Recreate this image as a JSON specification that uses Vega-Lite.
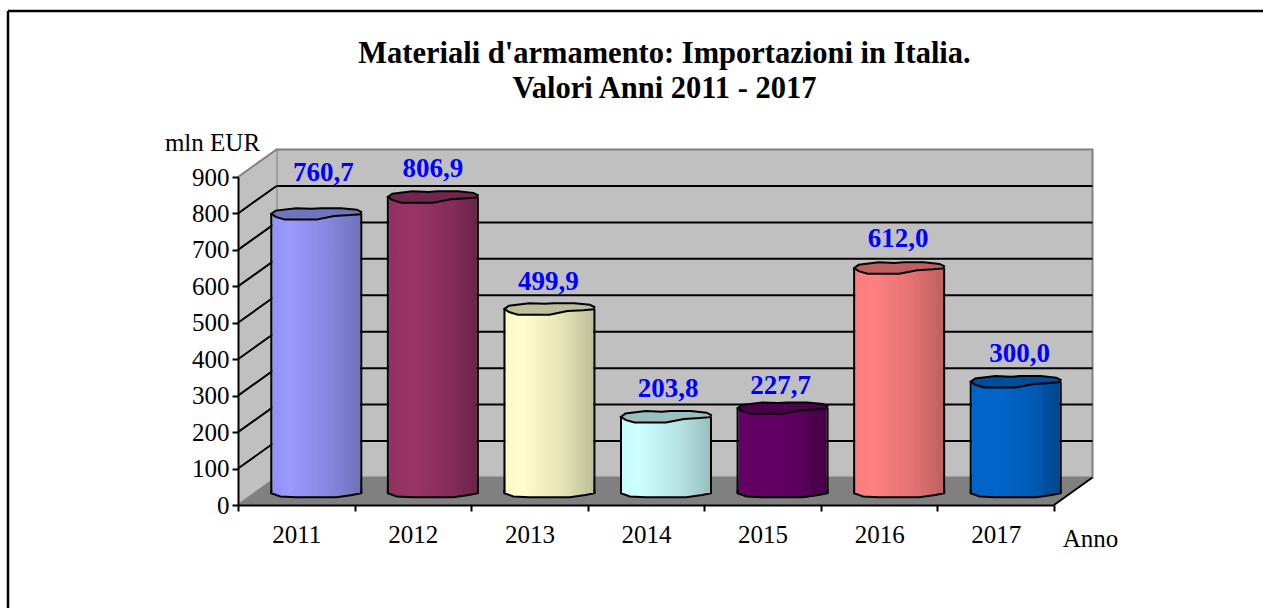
{
"$schema":"https://vega.github.io/schema/vega-lite/v6.json",
"autosize":{"type":"none"},
"padding":{"left":8,"top":11,"right":0,"bottom":0},
"width":1255,"height":597,
"background":"#ffffff",
"config":{"view":{"stroke":null},"font":"Liberation Serif"},
"title":{"text":["Materiali d'armamento: Importazioni in Italia.","Valori Anni 2011 - 2017"],"font":"Liberation Serif","fontSize":30.5,"fontWeight":"bold","color":"#000000","anchor":"middle","frame":"group","dx":29,"offset":-119,"lineHeight":35,"baseline":"alphabetic"},
"datasets":{
"rows":[
{"year":"2011","value":760.7,"label":"760,7"},
{"year":"2012","value":806.9,"label":"806,9"},
{"year":"2013","value":499.9,"label":"499,9"},
{"year":"2014","value":203.8,"label":"203,8"},
{"year":"2015","value":227.7,"label":"227,7"},
{"year":"2016","value":612.0,"label":"612,0"},
{"year":"2017","value":300.0,"label":"300,0"}],
"grid":[{"v":100},{"v":200},{"v":300},{"v":400},{"v":500},{"v":600},{"v":700},{"v":800}],
"edges":[{"v":0},{"v":900}]
},
"data":{"name":"rows"},
"resolve":{"scale":{"x":"independent"}},
"layer":[
{
"layer":[
{"data":{"values":[{"k":1}]},"mark":{"type":"rule","stroke":"#000000","strokeWidth":2.5},"encoding":{"x":{"value":0},"x2":{"value":1255},"y":{"value":0}}},
{"data":{"values":[{"k":1}]},"mark":{"type":"rule","stroke":"#000000","strokeWidth":2.5},"encoding":{"x":{"value":0},"y":{"value":0},"y2":{"value":597}}},
{"data":{"values":[{"k":1}]},"mark":{"type":"rect","fill":"#c0c0c0","stroke":"#808080","strokeWidth":2,"xOffset":38.5,"x2Offset":38.5,"yOffset":-27.5,"y2Offset":-27.5},
 "encoding":{"x":{"datum":0,"type":"quantitative","scale":{"domain":[0,7],"range":[230,1046],"nice":false,"zero":false},"axis":null},"x2":{"datum":7},
  "y":{"datum":0,"type":"quantitative","scale":{"domain":[0,900],"range":[494,166],"nice":false,"zero":false},"axis":{"values":[0,100,200,300,400,500,600,700,800,900],"orient":"left","offset":-230,"zindex":2,"grid":false,"domainColor":"#000000","domainWidth":2,"tickColor":"#000000","tickWidth":2,"tickSize":6,"labelFont":"Liberation Serif","labelFontSize":25,"labelColor":"#000000","labelPadding":3,"title":"mln EUR","titleFont":"Liberation Serif","titleFontSize":25,"titleFontWeight":"normal","titleColor":"#000000","titleAngle":0,"titleX":-26,"titleY":139,"titleAlign":"center","titleBaseline":"alphabetic"}},
  "y2":{"datum":900}}},
{"data":{"values":[{"p":0,"lo":0,"hi":900},{"p":0.33,"lo":75.5,"hi":975.5}]},"mark":{"type":"area","fill":"#c0c0c0","stroke":null},
 "encoding":{"x":{"field":"p","type":"quantitative","axis":null},"y":{"field":"lo","type":"quantitative"},"y2":{"field":"hi"}}},
{"data":{"values":[{"p":0,"lo":0,"hi":0},{"p":0.33,"lo":0,"hi":75.5},{"p":7,"lo":0,"hi":75.5},{"p":7.33,"lo":75.5,"hi":75.5}]},"mark":{"type":"area","fill":"#808080","stroke":null},
 "encoding":{"x":{"field":"p","type":"quantitative","axis":null},"y":{"field":"lo","type":"quantitative"},"y2":{"field":"hi"}}},
{"data":{"name":"grid"},"mark":{"type":"rule","stroke":"#000000","strokeWidth":2,"xOffset":38.5,"x2Offset":38.5,"yOffset":-27.5,"y2Offset":-27.5},
 "encoding":{"x":{"datum":0,"type":"quantitative","axis":null},"x2":{"datum":7},"y":{"field":"v","type":"quantitative"}}},
{"data":{"name":"grid"},"mark":{"type":"rule","stroke":"#000000","strokeWidth":2,"x2Offset":38.5,"y2Offset":-27.5},
 "encoding":{"x":{"datum":0,"type":"quantitative","axis":null},"x2":{"datum":0},"y":{"field":"v","type":"quantitative"},"y2":{"field":"v"}}},
{"data":{"name":"edges"},"mark":{"type":"rule","stroke":"#808080","strokeWidth":2,"x2Offset":38.5,"y2Offset":-27.5},
 "encoding":{"x":{"datum":0,"type":"quantitative","axis":null},"x2":{"datum":0},"y":{"field":"v","type":"quantitative"},"y2":{"field":"v"}}},
{"data":{"values":[{"k":1}]},"mark":{"type":"rule","stroke":"#000000","strokeWidth":2,"x2Offset":38.5,"y2Offset":-27.5},
 "encoding":{"x":{"datum":7,"type":"quantitative","axis":null},"x2":{"datum":7},"y":{"datum":0,"type":"quantitative"},"y2":{"datum":0}}}
]},
{"encoding":{"x":{"field":"year","type":"nominal","sort":null,"scale":{"domain":["2011","2012","2013","2014","2015","2016","2017"],"range":[230,1046],"paddingInner":0,"paddingOuter":0},
  "axis":{"orient":"bottom","offset":-103,"zindex":2,"tickBand":"extent","labelAngle":0,"domainColor":"#000000","domainWidth":2,"tickColor":"#000000","tickWidth":2,"tickSize":6,"labelFont":"Liberation Serif","labelFontSize":25,"labelColor":"#000000","labelPadding":11,"title":"Anno","titleFont":"Liberation Serif","titleFontSize":25,"titleFontWeight":"normal","titleColor":"#000000","titleX":1082,"titleY":41,"titleAlign":"center","titleBaseline":"alphabetic"}},
  "y":{"field":"value","type":"quantitative"}},
"layer":[
{"encoding":{"fill":{"condition":[
{"test":"datum.year==='2011'","value":{"gradient":"linear","x1":0,"x2":1,"y1":0,"y2":0,"stops":[{"offset":0,"color":"#9292f5"},{"offset":0.2,"color":"#9999ff"},{"offset":0.65,"color":"#8686df"},{"offset":1,"color":"#6f72b8"}]}},
{"test":"datum.year==='2012'","value":{"gradient":"linear","x1":0,"x2":1,"y1":0,"y2":0,"stops":[{"offset":0,"color":"#933163"},{"offset":0.3,"color":"#993366"},{"offset":0.7,"color":"#862d5a"},{"offset":1,"color":"#6b2447"}]}},
{"test":"datum.year==='2013'","value":{"gradient":"linear","x1":0,"x2":1,"y1":0,"y2":0,"stops":[{"offset":0,"color":"#fafac8"},{"offset":0.2,"color":"#ffffcc"},{"offset":0.65,"color":"#e3e3b5"},{"offset":1,"color":"#bfbf99"}]}},
{"test":"datum.year==='2014'","value":{"gradient":"linear","x1":0,"x2":1,"y1":0,"y2":0,"stops":[{"offset":0,"color":"#c8fafa"},{"offset":0.2,"color":"#ccffff"},{"offset":0.65,"color":"#b5e3e3"},{"offset":1,"color":"#99bfbf"}]}},
{"test":"datum.year==='2015'","value":{"gradient":"linear","x1":0,"x2":1,"y1":0,"y2":0,"stops":[{"offset":0,"color":"#660066"},{"offset":0.5,"color":"#620062"},{"offset":0.8,"color":"#570057"},{"offset":0.81,"color":"#4d004d"},{"offset":1,"color":"#470047"}]}},
{"test":"datum.year==='2016'","value":{"gradient":"linear","x1":0,"x2":1,"y1":0,"y2":0,"stops":[{"offset":0,"color":"#fa7d7d"},{"offset":0.2,"color":"#ff8080"},{"offset":0.65,"color":"#e37272"},{"offset":1,"color":"#bf6060"}]}},
{"test":"datum.year==='2017'","value":{"gradient":"linear","x1":0,"x2":1,"y1":0,"y2":0,"stops":[{"offset":0,"color":"#0063c6"},{"offset":0.3,"color":"#0066cc"},{"offset":0.8,"color":"#0057ad"},{"offset":0.81,"color":"#004f9f"},{"offset":1,"color":"#00478f"}]}}
],"value":"#999999"}},
"layer":[
{"mark":{"type":"point","filled":true,"opacity":1,"shape":"M-1,0L-1,0.05L-0.8,0.12L-0.45,0.14L0.45,0.14L0.8,0.09L1,0.05L1,0Z","size":8100,"stroke":"#000000","strokeWidth":2,"xOffset":20,"yOffset":-14},
 "encoding":{"y":{"datum":0,"type":"quantitative"}}},
{"mark":{"type":"bar","size":88,"stroke":null,"xOffset":20,"yOffset":-14,"y2Offset":-12},
 "encoding":{"y":{"field":"value","type":"quantitative"},"y2":{"datum":0}}}
]},
{"mark":{"type":"rule","stroke":"#000000","strokeWidth":2,"xOffset":-25,"yOffset":-14,"y2Offset":-12},"encoding":{"y2":{"datum":0}}},
{"mark":{"type":"rule","stroke":"#000000","strokeWidth":2,"xOffset":65,"yOffset":-14,"y2Offset":-12},"encoding":{"y2":{"datum":0}}},
{"mark":{"type":"point","filled":true,"opacity":1,"shape":"M-1,0L-0.9,-0.07L-0.45,-0.125L-0.1,-0.11L0.1,-0.125L0.55,-0.125L0.9,-0.09L1,-0.04L0.98,0.01L0.75,0.03L0.4,0.05L0,0.13L-0.7,0.13L-0.9,0.07Z","size":8100,"stroke":"#000000","strokeWidth":2,"xOffset":20,"yOffset":-14},
 "encoding":{"fill":{"field":"year","type":"nominal","legend":null,"scale":{"domain":["2011","2012","2013","2014","2015","2016","2017"],"range":["#7074bd","#73264d","#bfbf99","#99bfbf","#4d004d","#bf6060","#004d99"]}}}},
{"mark":{"type":"text","font":"Liberation Serif","fontSize":27,"fontWeight":"bold","fill":"#0000ff","baseline":"alphabetic","align":"center","xOffset":{"expr":"20+({'2011':7,'2012':0,'2013':-1,'2014':2,'2015':-2,'2016':-1,'2017':4})[datum.year]"},"yOffset":{"expr":"-14-({'2011':33,'2012':20,'2013':19,'2014':20,'2015':14,'2016':21,'2017':20})[datum.year]"}},
 "encoding":{"text":{"field":"label","type":"nominal"}}}
]}
]
}
